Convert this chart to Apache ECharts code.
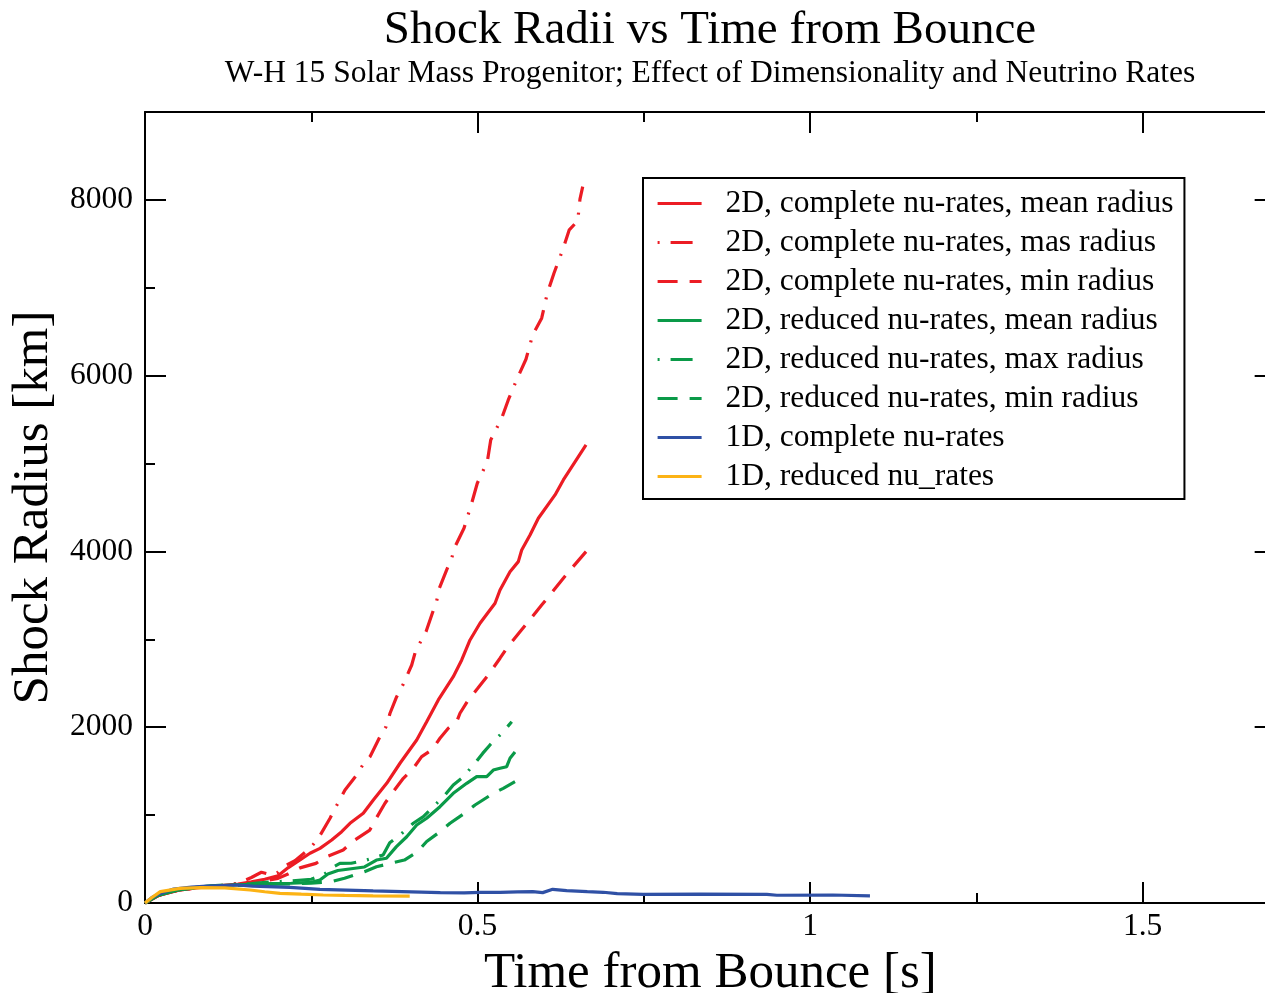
<!DOCTYPE html>
<html>
<head>
<meta charset="utf-8">
<script src="https://cdn.jsdelivr.net/npm/echarts@6/dist/echarts.min.js"></script>
<style>
html,body{margin:0;padding:0;background:#fff;}
#chart{width:1265px;height:993px;}
</style>
</head>
<body>
<div id="chart"></div>
<script>
// ---------- texts ----------
const chartTitle = 'Shock Radii vs Time from Bounce';
const chartSubtitle = 'W-H 15 Solar Mass Progenitor; Effect of Dimensionality and Neutrino Rates';
const xAxisName = 'Time from Bounce [s]';
const yAxisName = 'Shock Radius [km]';

// ---------- axis ranges / ticks ----------
const xMin = 0, xMax = 1.7, xMajor = 0.5, xMinor = 0.25;
const yMin = 0, yMax = 9000, yMajor = 2000, yMinor = 1000;

// ---------- legend names ----------
const seriesNames = [
  '2D, complete nu-rates, mean radius',
  '2D, complete nu-rates, mas radius',
  '2D, complete nu-rates, min radius',
  '2D, reduced nu-rates, mean radius',
  '2D, reduced nu-rates, max radius',
  '2D, reduced nu-rates, min radius',
  '1D, complete nu-rates',
  '1D, reduced nu_rates'
];

// ---------- data: [time (s), shock radius (km)] ----------
const complete2dMean = [
  [0,0],[0.02,85],[0.05,145],[0.08,175],[0.11,195],[0.14,215],[0.16,240],[0.18,270],[0.2,310],
  [0.215,400],[0.233,490],[0.2481,566],[0.2631,622],[0.2807,717],[0.2957,811],[0.3082,907],
  [0.3282,1021],[0.3433,1172],[0.3634,1362],[0.3834,1590],[0.4085,1855],[0.4235,2063],[0.441,2310],
  [0.4635,2575],[0.4762,2765],[0.4887,2993],[0.5037,3183],[0.5263,3411],[0.5338,3562],[0.5488,3770],
  [0.5613,3884],[0.5664,4017],[0.5789,4188],[0.5914,4378],[0.6165,4643],[0.629,4814],[0.6631,5212]
];
const complete2dMax = [
  [0,0],[0.02,85],[0.05,145],[0.08,175],[0.11,195],[0.14,225],[0.16,290],[0.175,350],[0.19,320],
  [0.2,350],[0.2079,413],[0.2255,481],[0.2481,622],[0.2606,736],[0.2782,964],[0.2831,1039],
  [0.2921,1164],[0.3007,1286],[0.3183,1457],[0.3273,1570],[0.3383,1665],[0.3533,1892],[0.3624,2006],
  [0.3684,2159],[0.3784,2348],[0.3884,2492],[0.401,2708],[0.406,2845],[0.4135,2962],[0.4225,3087],
  [0.432,3297],[0.4386,3440],[0.4425,3581],[0.4536,3790],[0.4611,3923],[0.4661,4055],[0.4796,4264],
  [0.4912,4549],[0.4996,4776],[0.5147,5022],[0.5198,5269],[0.5363,5516],[0.5462,5724],[0.5598,5971],
  [0.5728,6187],[0.5829,6464],[0.5964,6654],[0.6049,6938],[0.6149,7166],[0.628,7431],[0.6379,7659],
  [0.6506,7761],[0.654,8009],[0.6581,8151]
];
const complete2dMin = [
  [0,0],[0.02,85],[0.05,145],[0.08,175],[0.11,192],[0.14,205],[0.16,225],[0.18,250],[0.2,280],
  [0.215,330],[0.233,400],[0.257,451],[0.273,527],[0.298,603],[0.313,705],[0.338,830],[0.3458,940],
  [0.3608,1135],[0.3733,1267],[0.3884,1419],[0.4034,1533],[0.416,1665],[0.4311,1741],[0.4435,1874],
  [0.456,1988],[0.4687,2063],[0.4736,2159],[0.4861,2310],[0.5,2440],[0.5162,2595],[0.5338,2785],
  [0.5438,2898],[0.5638,3087],[0.5763,3201],[0.5964,3391],[0.6089,3505],[0.629,3695],[0.6416,3809],
  [0.6631,3998]
];
const reduced2dMean = [
  [0,0],[0.02,90],[0.05,150],[0.08,180],[0.1,192],[0.13,205],[0.16,212],[0.19,220],[0.22,225],
  [0.25,235],[0.263,262],[0.275,330],[0.29,370],[0.31,390],[0.33,410],[0.348,489],[0.363,509],
  [0.378,641],[0.3935,754],[0.4085,888],[0.4235,964],[0.4435,1096],[0.4635,1248],[0.4837,1362],
  [0.4987,1437],[0.5138,1437],[0.5237,1513],[0.5338,1533],[0.5438,1551],[0.5488,1647],[0.5563,1718]
];
const reduced2dMax = [
  [0,0],[0.02,90],[0.05,150],[0.08,180],[0.1,195],[0.13,210],[0.16,220],[0.19,240],[0.22,250],
  [0.25,270],[0.27,330],[0.283,410],[0.293,450],[0.31,452],[0.333,489],[0.358,546],[0.368,686],
  [0.3834,774],[0.4034,907],[0.4185,982],[0.4311,1078],[0.4511,1229],[0.4635,1343],[0.4762,1419],
  [0.4962,1590],[0.5077,1702],[0.5187,1798],[0.5387,1949],[0.5514,2063]
];
const reduced2dMin = [
  [0,0],[0.02,90],[0.05,150],[0.08,178],[0.1,190],[0.13,200],[0.16,205],[0.2,215],[0.25,225],
  [0.28,243],[0.3,281],[0.33,356],[0.348,413],[0.39,489],[0.41,584],[0.4235,700],[0.4435,811],
  [0.4586,907],[0.4837,1039],[0.4962,1115],[0.5237,1248],[0.5387,1305],[0.5563,1380]
];
const complete1d = [
  [0,0],[0.01,60],[0.02,100],[0.043,159],[0.07,180],[0.093,193],[0.138,205],[0.162,193],[0.218,178],
  [0.263,156],[0.343,137],[0.444,117],[0.48,115],[0.504,122],[0.534,122],[0.56,126],[0.583,129],
  [0.598,118],[0.613,156],[0.634,140],[0.665,129],[0.689,122],[0.71,106],[0.749,99],[0.834,102],
  [0.935,99],[0.95,88],[1.034,91],[1.09,80]
];
const reduced1d = [
  [0,0],[0.01,60],[0.023,129],[0.053,167],[0.083,174],[0.12,172],[0.158,148],[0.18,128],[0.203,110],
  [0.235,100],[0.268,91],[0.3,86],[0.343,80],[0.398,78]
];

// ---------- styling ----------
const FONT = '"Liberation Serif", "Times New Roman", Times, serif';
const RED = '#ec1c24', GREEN = '#0a9a48', BLUE = '#2f50a5', ORANGE = '#fcb315';
const DASHDOT = [2, 11, 22, 11];
const DASHED = [20, 12];

const seriesData = [complete2dMean, complete2dMax, complete2dMin, reduced2dMean, reduced2dMax, reduced2dMin, complete1d, reduced1d];
const seriesColors = [RED, RED, RED, GREEN, GREEN, GREEN, BLUE, ORANGE];
const seriesDash = ['solid', DASHDOT, DASHED, 'solid', DASHDOT, DASHED, 'solid', 'solid'];

const gridLeft = 145, gridTop = 112, gridHeight = 791;
const gridWidth = 665.1 * xMax;

const series = seriesNames.map((name, i) => ({
  name: name,
  type: 'line',
  xAxisIndex: 0,
  yAxisIndex: 0,
  data: seriesData[i],
  symbol: 'none',
  showSymbol: false,
  smooth: false,
  clip: true,
  color: seriesColors[i],
  lineStyle: { color: seriesColors[i], width: 3.2, type: seriesDash[i] },
  emphasis: { disabled: true },
  z: 2
}));

function xAxisDef(pos, major, withLabel) {
  return {
    type: 'value', position: pos, min: xMin, max: xMax,
    interval: major ? xMajor : xMinor,
    axisLine: { show: major, onZero: false, lineStyle: { color: '#000', width: 2 } },
    axisTick: { show: true, inside: true, length: major ? 21 : 10, lineStyle: { color: '#000', width: 2 } },
    axisLabel: withLabel ? {
      show: true, margin: 8, color: '#000', fontFamily: FONT, fontSize: 31.5,
      formatter: v => (Math.abs(v / xMajor - Math.round(v / xMajor)) < 1e-6 ? String(v) : '')
    } : { show: false },
    splitLine: { show: false },
    name: withLabel ? xAxisName : '',
    nameLocation: 'middle', nameGap: 63,
    nameTextStyle: { fontFamily: FONT, fontSize: 51, color: '#000', verticalAlign: 'middle' }
  };
}
function yAxisDef(pos, major, withLabel) {
  return {
    type: 'value', position: pos, min: yMin, max: yMax,
    interval: major ? yMajor : yMinor,
    axisLine: { show: major, onZero: false, lineStyle: { color: '#000', width: 2 } },
    axisTick: { show: true, inside: true, length: major ? 21 : 10, lineStyle: { color: '#000', width: 2 } },
    axisLabel: withLabel ? {
      show: true, margin: 12, color: '#000', fontFamily: FONT, fontSize: 31.5,
      formatter: v => (v % yMajor === 0 ? String(v) : '')
    } : { show: false },
    splitLine: { show: false },
    name: withLabel ? yAxisName : '',
    nameLocation: 'middle', nameGap: 107,
    nameTextStyle: { fontFamily: FONT, fontSize: 51, color: '#000', verticalAlign: 'middle' }
  };
}

const chart = echarts.init(document.getElementById('chart'), null, { renderer: 'canvas', width: 1265, height: 993 });
chart.setOption({
  animation: false,
  backgroundColor: '#fff',
  grid: { left: gridLeft, top: gridTop, width: gridWidth, height: gridHeight, containLabel: false, outerBoundsMode: 'none' },
  xAxis: [
    xAxisDef('bottom', true, true),
    xAxisDef('bottom', false, false),
    xAxisDef('top', true, false),
    xAxisDef('top', false, false)
  ],
  yAxis: [
    yAxisDef('left', true, true),
    yAxisDef('left', false, false),
    yAxisDef('right', true, false),
    yAxisDef('right', false, false)
  ],
  legend: {
    show: true,
    orient: 'vertical',
    left: 643, top: 178,
    padding: [6, 11, 3, 13],
    itemWidth: 44, itemHeight: 14, itemGap: 0,
    selectedMode: false,
    backgroundColor: '#fff',
    borderColor: '#000', borderWidth: 2, borderRadius: 0,
    lineStyle: { width: 3.2 },
    itemStyle: { color: 'rgba(0,0,0,0)', borderWidth: 0, opacity: 0 },
    textStyle: { fontFamily: FONT, fontSize: 31.5, color: '#000', lineHeight: 39, padding: [0, 0, 0, 19] },
    data: seriesNames,
    z: 10
  },
  graphic: [
    { type: 'text', x: 710, y: 31, style: { text: chartTitle, fontFamily: FONT, fontSize: 47, fill: '#000', align: 'center', verticalAlign: 'middle' } },
    { type: 'text', x: 710, y: 74, style: { text: chartSubtitle, fontFamily: FONT, fontSize: 31.5, fill: '#000', align: 'center', verticalAlign: 'middle' } }
  ],
  series: series
});
</script>
</body>
</html>
